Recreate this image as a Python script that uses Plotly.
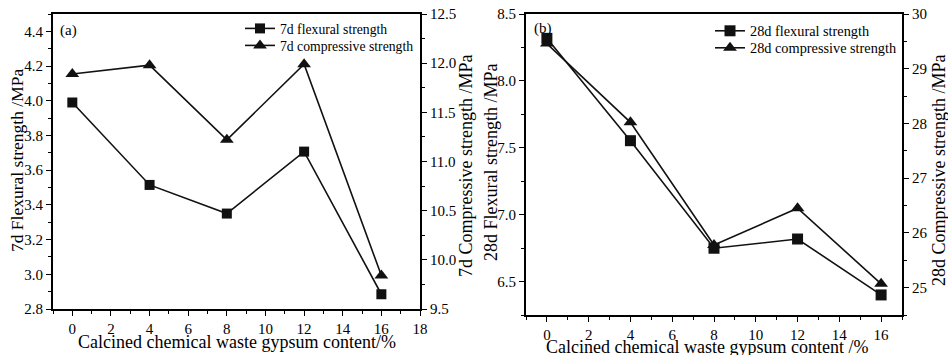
import plotly.graph_objects as go

# ---- data ----
content = [0, 4, 8, 12, 16]
flex_7d = [3.99, 3.515, 3.35, 3.707, 2.885]
comp_7d = [11.89, 11.98, 11.22, 11.99, 9.84]
flex_28d = [8.318, 7.553, 6.749, 6.818, 6.40]
comp_28d = [29.46, 28.02, 25.78, 26.45, 25.07]

FONT = "Liberation Serif"
W, H = 948, 355

def px_x(p):
    return p / W

def px_y(p):
    return 1 - p / H

fig = go.Figure()

line_style = dict(color="#111111", width=1.6)

fig.add_trace(go.Scatter(x=content, y=flex_7d, mode="lines+markers", name="7d flexural strength",
                         line=line_style, marker=dict(symbol="square", size=10, color="#111111"),
                         xaxis="x", yaxis="y", legend="legend", showlegend=True))
fig.add_trace(go.Scatter(x=content, y=comp_7d, mode="lines+markers", name="7d compressive strength",
                         line=line_style, marker=dict(symbol="triangle-up", size=12, color="#111111"),
                         xaxis="x", yaxis="y2", legend="legend3", showlegend=True))
fig.add_trace(go.Scatter(x=content, y=flex_28d, mode="lines+markers", name="28d flexural strength",
                         line=line_style, marker=dict(symbol="square", size=11, color="#111111"),
                         xaxis="x2", yaxis="y3", legend="legend2", showlegend=True))
fig.add_trace(go.Scatter(x=content, y=comp_28d, mode="lines+markers", name="28d compressive strength",
                         line=line_style, marker=dict(symbol="triangle-up", size=12, color="#111111"),
                         xaxis="x2", yaxis="y4", legend="legend4", showlegend=True))

tickfont = dict(family=FONT, size=15, color="black")
common = dict(showline=True, linecolor="black", linewidth=1.8, ticks="outside", ticklen=5,
              tickwidth=1.4, tickcolor="black", showgrid=False, zeroline=False,
              tickfont=tickfont, automargin=False)
minor_common = dict(ticks="outside", ticklen=3, tickcolor="black", tickwidth=1.2)

dom_xa = [px_x(53), px_x(420)]
dom_ya = [px_y(309), px_y(14)]
dom_xb = [px_x(526), px_x(902)]
dom_yb = [px_y(315), px_y(14)]

def leg(x, row, size):
    return dict(x=px_x(x), y=px_y(row - 15), xanchor="left", yanchor="top", bgcolor="rgba(0,0,0,0)",
                font=dict(family=FONT, size=size, color="black"), itemwidth=30, tracegroupgap=0)

fig.update_layout(
    width=W, height=H,
    showlegend=True,
    margin=dict(l=0, r=0, t=0, b=0),
    paper_bgcolor="white", plot_bgcolor="white",
    font=dict(family=FONT, color="black"),
    xaxis=dict(domain=dom_xa, anchor="y", range=[-1, 18], dtick=2, tick0=0, mirror=True,
               minor=dict(dtick=1, tick0=0, **minor_common), **common),
    yaxis=dict(domain=dom_ya, anchor="x", range=[2.8, 4.5], dtick=0.2, tick0=2.8, tickformat=".1f",
               minor=dict(dtick=0.1, tick0=2.8, **minor_common), **common),
    yaxis2=dict(domain=dom_ya, anchor="x", overlaying="y", side="right", range=[9.5, 12.5], dtick=0.5,
                tick0=9.5, tickformat=".1f",
                minor=dict(dtick=0.25, tick0=9.5, **minor_common), **common),
    xaxis2=dict(domain=dom_xb, anchor="y3", range=[-1, 17], dtick=2, tick0=0, mirror=True,
                minor=dict(dtick=1, tick0=0, **minor_common), **common),
    yaxis3=dict(domain=dom_yb, anchor="x2", range=[6.25, 8.5], dtick=0.5, tick0=6.5, tickformat=".1f",
                minor=dict(dtick=0.25, tick0=6.5, **minor_common), **common),
    yaxis4=dict(domain=dom_yb, anchor="x2", overlaying="y3", side="right", range=[24.5, 30], dtick=1,
                tick0=25,
                minor=dict(dtick=0.5, tick0=25, **minor_common), **common),
    legend=leg(240, 28, 13.7),
    legend3=leg(240, 45, 13.7),
    legend2=leg(710, 30, 14.3),
    legend4=leg(710, 47, 14.3),
)

ann = []
def add(text, x, y, size, angle=0):
    ann.append(dict(text=text, x=px_x(x), y=px_y(y), xref="paper", yref="paper", showarrow=False,
                    textangle=angle, font=dict(family=FONT, size=size, color="black"),
                    xanchor="center", yanchor="middle"))

add("7d Flexural strength /MPa", 17, 161, 17.5, -90)
add("7d Compressive strength /MPa", 466, 166, 18, -90)
add("Calcined chemical waste gypsum content/%", 237, 342, 18)
add("(a)", 68, 31, 15)
add("28d Flexural strength /MPa", 491, 162, 18, -90)
add("28d Compressive strength /MPa", 939, 170, 18, -90)
add("Calcined chemical waste gypsum content /%", 707, 347, 18)
add("(b)", 543, 28, 15)
fig.update_layout(annotations=ann)

fig.write_html("out.html", config={"displayModeBar": False},
               post_script="document.body.style.margin='0px';document.body.style.overflow='hidden';")
